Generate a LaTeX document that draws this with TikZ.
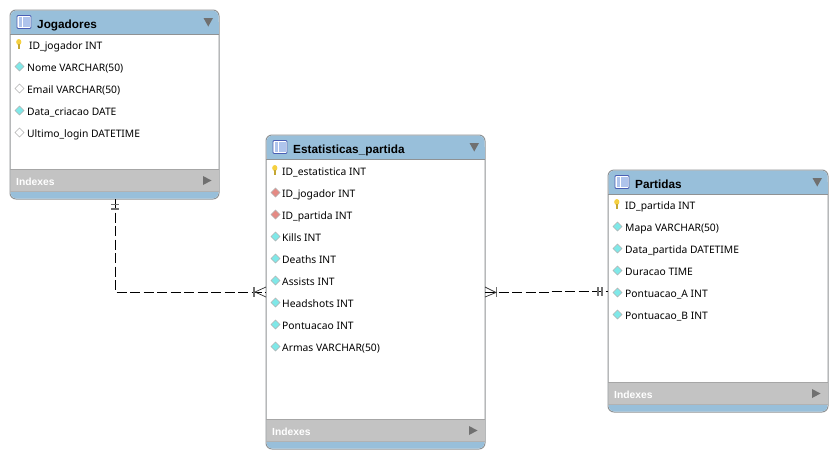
\documentclass[tikz,border=0pt]{standalone}
\usepackage{fontspec}
\setmainfont{Noto Sans}
\newfontfamily\boldfont{Liberation Sans}
\usetikzlibrary{calc, positioning}
\definecolor{headblue}{HTML}{98BFDA}
\definecolor{bandgray}{HTML}{C3C3C3}
\definecolor{edgegray}{HTML}{8F9294}
\definecolor{tickgray}{HTML}{707070}
\definecolor{keyyellow}{HTML}{F5D040}
\definecolor{attrcyan}{HTML}{7FE8E8}
\definecolor{fkred}{HTML}{E58A84}
\definecolor{iconblue}{HTML}{4A5FB5}
\definecolor{iconfill}{HTML}{AFC4EC}
\tikzset{
 tablebody/.style={draw=edgegray, fill=white, line width=1pt, rounded corners=6pt, outer sep=0pt, inner sep=0pt},
 tabletitle/.style={anchor=base west, inner sep=0pt, font=\boldfont\fontsize{11.8}{13}\selectfont\bfseries, text=black},
 columntext/.style={anchor=base west, inner sep=0pt, font=\fontsize{10.3}{12}\selectfont, text=black},
 indexestext/.style={anchor=base west, inner sep=0pt, font=\boldfont\fontsize{10.3}{12}\selectfont\bfseries, text=white},
 relline/.style={line width=0.9pt, dash pattern=on 10pt off 3.5pt},
 tickline/.style={draw=tickgray, line width=1.6pt},
 crowline/.style={line width=0.7pt, draw=black!80},
 diamondmark/.style={draw=gray!60, line width=0.4pt},
}
% #1 name, #2 left, #3 top, #4 right, #5 bottom, #6 title
\newcommand*{\dbtable}[6]{
 \node [tablebody, minimum width={(#4-#2)*1pt}, minimum height={(#5-#3)*1pt}] (#1) at ({(#2+#4)/2},{(#3+#5)/2}) {};
 \fill [headblue, rounded corners=6pt] (#2+0.5,#3+24) -- (#2+0.5,#3+0.5) -- (#4-0.5,#3+0.5) -- (#4-0.5,#3+24) -- cycle;
 \fill [headblue] (#2+0.5,#3+12) rectangle (#4-0.5,#3+24);
 \draw [edgegray, line width=0.8pt] (#2,#3+24.5) -- (#4,#3+24.5);
 \fill [headblue, rounded corners=6pt] (#2+0.5,#5-12) -- (#2+0.5,#5-0.5) -- (#4-0.5,#5-0.5) -- (#4-0.5,#5-12) -- cycle;
 \fill [bandgray] (#2+0.5,#5-29) rectangle (#4-0.5,#5-8);
 \draw [black!35, line width=0.8pt] (#2,#5-29.5) -- (#4,#5-29.5);
 \draw [black!30, line width=0.8pt] (#2,#5-8) -- (#4,#5-8);
 % table icon
 \draw [fill=white, draw=iconblue, line width=0.9pt, rounded corners=1pt] (#2+7,#3+5.5) rectangle (#2+21,#3+18.5);
 \fill [iconfill] (#2+8.5,#3+7) rectangle (#2+12,#3+17);
 \fill [iconfill] (#2+12.7,#3+7) rectangle (#2+15.5,#3+17);
 \fill [iconfill] (#2+16.2,#3+7) rectangle (#2+19.7,#3+17);
 \node [tabletitle] (#1title) at (#2+27,#3+18) {#6};
 \fill [tickgray] (#4-15.5,#3+8) -- (#4-6,#3+8) -- (#4-10.75,#3+16.5) -- cycle;
 \node [indexestext] (#1index) at (#2+6,#5-14) {Indexes};
 \fill [tickgray] (#4-16,#5-23) -- (#4-7.5,#5-18.5) -- (#4-16,#5-14) -- cycle;
}
% #1 name, #2 left, #3 y, #4 fill colour, #5 text, #6 text offset
\newcommand*{\dbcolumn}[6]{
 \draw [diamondmark, fill=#4] (#2+9.5,#3-5) -- (#2+14,#3-0.5) -- (#2+9.5,#3+4) -- (#2+5,#3-0.5) -- cycle;
 \node [columntext] (#1) at (#2+#6,#3+4.6) {#5};
}
% #1 name, #2 left, #3 y, #4 text offset, #5 text
\newcommand*{\dbkey}[5]{
 \fill [keyyellow] (#2+8.8,#3-3) ellipse (2.6 and 3);
 \fill [keyyellow!80!black] (#2+7.8,#3-1) rectangle (#2+9.8,#3+3.5);
 \node [columntext] (#1) at (#2+#4,#3+4.6) {#5};
}

\begin{document}
\begin{tikzpicture}[x=1pt, y=-1pt]
 \useasboundingbox [fill=white] (0,0) rectangle (838,459);
 \dbtable{jog}{10}{10}{219}{199}{Jogadores}
 \dbkey{jogId}{10}{45}{19}{ID\_jogador INT}
 \dbcolumn{jogNome}{10}{67}{attrcyan}{Nome VARCHAR(50)}{17}
 \dbcolumn{jogEmail}{10}{89}{white}{Email VARCHAR(50)}{17}
 \dbcolumn{jogData}{10}{111}{attrcyan}{Data\_criacao DATE}{17}
 \dbcolumn{jogLogin}{10}{133}{white}{Ultimo\_login DATETIME}{17}

 \dbtable{est}{266}{135}{485}{449}{Estatisticas\_partida}
 \dbkey{estId}{266}{171}{16}{ID\_estatistica INT}
 \dbcolumn{estJog}{266}{193}{fkred}{ID\_jogador INT}{16}
 \dbcolumn{estPar}{266}{215}{fkred}{ID\_partida INT}{16}
 \dbcolumn{estKills}{266}{237}{attrcyan}{Kills INT}{16}
 \dbcolumn{estDeaths}{266}{259}{attrcyan}{Deaths INT}{16}
 \dbcolumn{estAssists}{266}{281}{attrcyan}{Assists INT}{16}
 \dbcolumn{estHead}{266}{303}{attrcyan}{Headshots INT}{16}
 \dbcolumn{estPont}{266}{325}{attrcyan}{Pontuacao INT}{16}
 \dbcolumn{estArmas}{266}{347}{attrcyan}{Armas VARCHAR(50)}{16}

 \dbtable{par}{608}{170}{828}{412}{Partidas}
 \dbkey{parId}{608}{205}{17}{ID\_partida INT}
 \dbcolumn{parMapa}{608}{227}{attrcyan}{Mapa VARCHAR(50)}{17}
 \dbcolumn{parData}{608}{249}{attrcyan}{Data\_partida DATETIME}{17}
 \dbcolumn{parDur}{608}{271}{attrcyan}{Duracao TIME}{17}
 \dbcolumn{parPontA}{608}{293}{attrcyan}{Pontuacao\_A INT}{17}
 \dbcolumn{parPontB}{608}{315}{attrcyan}{Pontuacao\_B INT}{17}

 % relationships
 \coordinate (jogOut) at (115,199);
 \coordinate (stepA) at (548,292.5);
 \coordinate (stepB) at (548,291.5);
 \draw [relline] (jogOut) |- (est.west);
 \draw [relline] (est.east |- stepA) -- (stepA) -- (stepB) -- (par.west |- stepB);
 \draw [tickline] (111,204.5) -- (119,204.5);
 \draw [tickline] (111,209) -- (119,209);
 \draw [tickline] (254,287) -- (254,297);
 \draw [crowline] (266,287) -- (255,292) -- (266,297);
 \draw [tickline] (496.5,287) -- (496.5,297);
 \draw [crowline] (485,287) -- (496,292.5) -- (485,297);
 \draw [tickline] (598,287) -- (598,296);
 \draw [tickline] (602,287) -- (602,296);
\end{tikzpicture}
\end{document}
